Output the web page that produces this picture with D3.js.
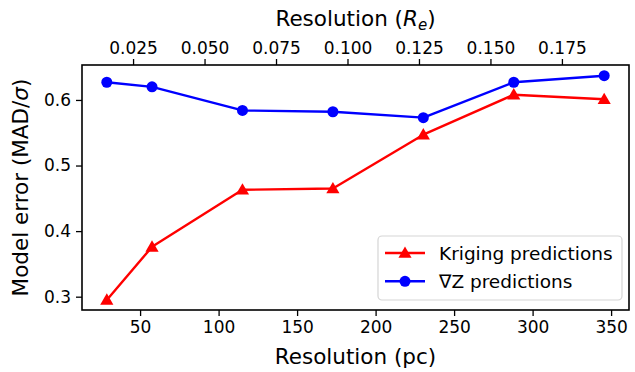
<!DOCTYPE html>
<html>
<head>
<meta charset="utf-8">
<script src="https://cdn.jsdelivr.net/npm/d3@7"></script>
<style>
  html, body { margin: 0; padding: 0; background: #fff; }
  svg { display: block; font-family: "DejaVu Sans", sans-serif; }
</style>
</head>
<body>
<svg id="chart" width="635" height="372"></svg>
<script>
// Resolution in parsec for each run
const resolutionPc = [28.8, 57.6, 115.2, 172.8, 230.4, 288.0, 345.6];
// Model error (MAD / sigma) per method
const krigingErr = [0.295, 0.376, 0.463, 0.465, 0.547, 0.608, 0.601];
const gradZErr   = [0.627, 0.620, 0.584, 0.582, 0.573, 0.627, 0.637];
// Axis ticks
const pcTicks = [50, 100, 150, 200, 250, 300, 350];
const reTicks = [0.025, 0.050, 0.075, 0.100, 0.125, 0.150, 0.175];
const errTicks = [0.3, 0.4, 0.5, 0.6];
// Effective radius in parsec used for the top axis conversion
const effRadiusPc = 1821;

const svg = d3.select("#chart");
const plotL = 82, plotR = 629, plotT = 65, plotB = 310;

const x = d3.scaleLinear().domain([13.0, 361.4]).range([plotL, plotR]);
const xTop = d3.scaleLinear().domain(x.domain().map(d => d / effRadiusPc)).range([plotL, plotR]);
const y = d3.scaleLinear().domain([0.2797, 0.6533]).range([plotB, plotT]);

const tickFont = "17px";
const labelFont = "21.5px";

// Bottom axis
const gB = svg.append("g").attr("transform", `translate(0,${plotB})`)
  .call(d3.axisBottom(x).tickValues(pcTicks).tickFormat(d3.format("d")).tickSize(6).tickPadding(5));
// Top axis
const gT = svg.append("g").attr("transform", `translate(0,${plotT})`)
  .call(d3.axisTop(xTop).tickValues(reTicks).tickFormat(d3.format(".3f")).tickSize(6).tickPadding(5));
// Left axis
const gL = svg.append("g").attr("transform", `translate(${plotL},0)`)
  .call(d3.axisLeft(y).tickValues(errTicks).tickFormat(d3.format(".1f")).tickSize(6).tickPadding(5));

[gB, gT, gL].forEach(g => {
  g.select(".domain").remove();
  g.selectAll(".tick line").attr("stroke", "#000").attr("stroke-width", 1.3);
  g.selectAll(".tick text").attr("fill", "#000").style("font-size", tickFont)
    .style("font-family", "DejaVu Sans, sans-serif");
});

// Frame
svg.append("rect").attr("x", plotL).attr("y", plotT)
  .attr("width", plotR - plotL).attr("height", plotB - plotT)
  .attr("fill", "none").attr("stroke", "#000").attr("stroke-width", 1.6);

// Series
const series = [
  { name: "Kriging predictions", values: krigingErr, color: "#ff0000", marker: "triangle" },
  { name: "\u2207Z predictions", values: gradZErr, color: "#0000ff", marker: "circle" }
];

const line = d3.line().x(d => x(d[0])).y(d => y(d[1]));
const triSym = d3.symbol().type(d3.symbolTriangle).size(75);

function drawMarker(g, type, color, cx, cy) {
  if (type === "circle") {
    g.append("circle").attr("cx", cx).attr("cy", cy).attr("r", 5.5).attr("fill", color);
  } else {
    g.append("path").attr("d", triSym()).attr("transform", `translate(${cx},${cy + 1})`).attr("fill", color);
  }
}

series.forEach(s => {
  const pts = resolutionPc.map((r, i) => [r, s.values[i]]);
  const g = svg.append("g");
  g.append("path").datum(pts).attr("d", line)
    .attr("fill", "none").attr("stroke", s.color).attr("stroke-width", 2.4)
    .attr("stroke-linejoin", "round");
  pts.forEach(p => drawMarker(g, s.marker, s.color, x(p[0]), y(p[1])));
});

// Axis labels
svg.append("text").attr("x", (plotL + plotR) / 2).attr("y", 364)
  .attr("text-anchor", "middle").style("font-size", labelFont).text("Resolution (pc)");

const topLabel = svg.append("text").attr("x", (plotL + plotR) / 2).attr("y", 26)
  .attr("text-anchor", "middle").style("font-size", labelFont);
topLabel.append("tspan").text("Resolution (");
topLabel.append("tspan").style("font-style", "italic").text("R");
topLabel.append("tspan").style("font-style", "italic").style("font-size", "15px").attr("dy", 4).text("e");
topLabel.append("tspan").attr("dy", -4).text(")");

const yLabel = svg.append("text")
  .attr("transform", `translate(28,${(plotT + plotB) / 2}) rotate(-90)`)
  .attr("text-anchor", "middle").style("font-size", labelFont);
yLabel.append("tspan").text("Model error (MAD/");
yLabel.append("tspan").style("font-style", "italic").text("\u03c3");
yLabel.append("tspan").text(")");

// Legend
const lg = svg.append("g");
lg.append("rect").attr("x", 378).attr("y", 236).attr("width", 244).attr("height", 64)
  .attr("rx", 4).attr("fill", "#fff").attr("fill-opacity", 0.8)
  .attr("stroke", "#d5d5d5").attr("stroke-width", 1.2);
series.forEach((s, i) => {
  const ly = 253 + i * 28.3;
  lg.append("line").attr("x1", 385).attr("x2", 425).attr("y1", ly).attr("y2", ly)
    .attr("stroke", s.color).attr("stroke-width", 2.4);
  drawMarker(lg, s.marker, s.color, 405, ly);
  lg.append("text").attr("x", 439).attr("y", ly + 6.5).style("font-size", "18.5px").text(s.name);
});
</script>
</body>
</html>
